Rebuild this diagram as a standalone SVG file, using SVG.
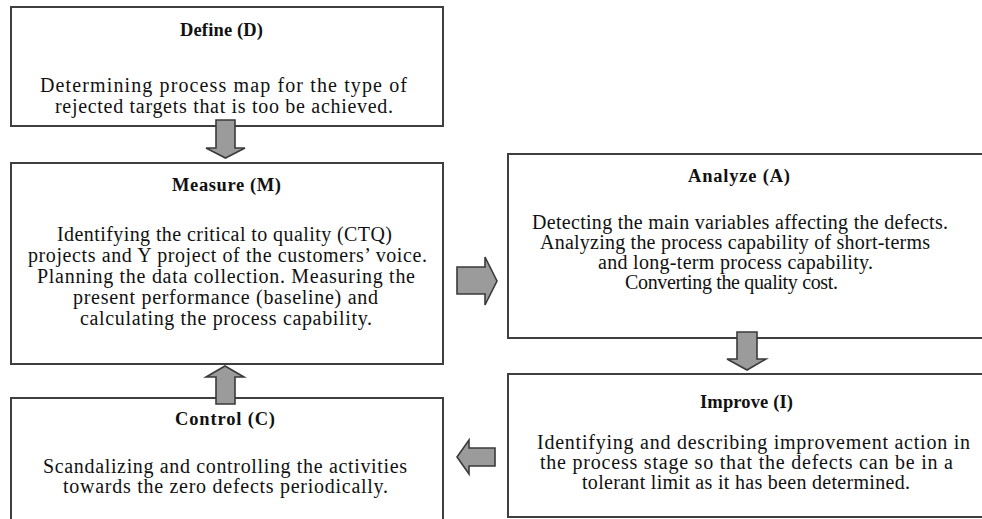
<svg xmlns="http://www.w3.org/2000/svg" width="982" height="519" viewBox="0 0 982 519">
<style>
.box{fill:#fff;stroke:#3f3f3f;stroke-width:2}
.t{font-family:"Liberation Serif","Times New Roman",serif;font-size:18.5px;font-weight:bold;fill:#111}
.b{font-family:"Liberation Serif","Times New Roman",serif;font-size:20px;fill:#111}
.arr{fill:#9b9b9b;stroke:#3a3a3a;stroke-width:1.6;stroke-linejoin:miter}
</style>
<rect width="982" height="519" fill="#fff"/>
<g id="define">
<rect class="box" x="11" y="7" width="432" height="119"/>
<text class="t" x="180" y="36" textLength="83">Define (D)</text>
<text class="b" x="40" y="92" textLength="367">Determining process map for the type of</text>
<text class="b" x="55" y="113" textLength="338">rejected targets that is too be achieved.</text>
</g>
<g id="measure">
<rect class="box" x="11" y="163" width="432" height="201"/>
<text class="t" x="172" y="191" textLength="109">Measure (M)</text>
<text class="b" x="57" y="241" textLength="335">Identifying the critical to quality (CTQ)</text>
<text class="b" x="28" y="262" textLength="399">projects and Y project of the customers’ voice.</text>
<text class="b" x="37" y="283" textLength="378">Planning the data collection. Measuring the</text>
<text class="b" x="73" y="304" textLength="305">present performance (baseline) and</text>
<text class="b" x="80" y="325" textLength="292">calculating the process capability.</text>
</g>
<g id="analyze">
<rect class="box" x="508" y="154" width="482" height="184"/>
<text class="t" x="688" y="182" textLength="102">Analyze (A)</text>
<text class="b" x="532" y="229" textLength="416">Detecting the main variables affecting the defects.</text>
<text class="b" x="540" y="249" textLength="390">Analyzing the process capability of short-terms</text>
<text class="b" x="598" y="269" textLength="275">and long-term process capability.</text>
<text class="b" x="625" y="289" textLength="213">Converting the quality cost.</text>
</g>
<g id="improve">
<rect class="box" x="508" y="374" width="482" height="143"/>
<text class="t" x="700" y="408" textLength="93">Improve (I)</text>
<text class="b" x="537" y="449" textLength="433">Identifying and describing improvement action in</text>
<text class="b" x="540" y="469" textLength="413">the process stage so that the defects can be in a</text>
<text class="b" x="582" y="489" textLength="328">tolerant limit as it has been determined.</text>
</g>
<g id="control">
<rect class="box" x="11" y="398" width="432" height="140"/>
<text class="t" x="175" y="425" textLength="100">Control (C)</text>
<text class="b" x="43" y="473" textLength="364">Scandalizing and controlling the activities</text>
<text class="b" x="63" y="493" textLength="325">towards the zero defects periodically.</text>
</g>
<g id="connectors">
<path class="arr" d="M216,120 H235 V148 H245 L225.5,158 L206,148 H216 Z"/>
<path class="arr" d="M457,267 H485 V257 L497,281 L485,305 V294 H457 Z"/>
<path class="arr" d="M737,332 H757 V359 H766 L747,370 L727,359 H737 Z"/>
<path class="arr" d="M495,448 H469 V440 L457,457 L469,474 V466 H495 Z"/>
<path class="arr" d="M216,404 V377 H206 L225,366 L244,377 H235 V404 Z"/>
</g>
</svg>
